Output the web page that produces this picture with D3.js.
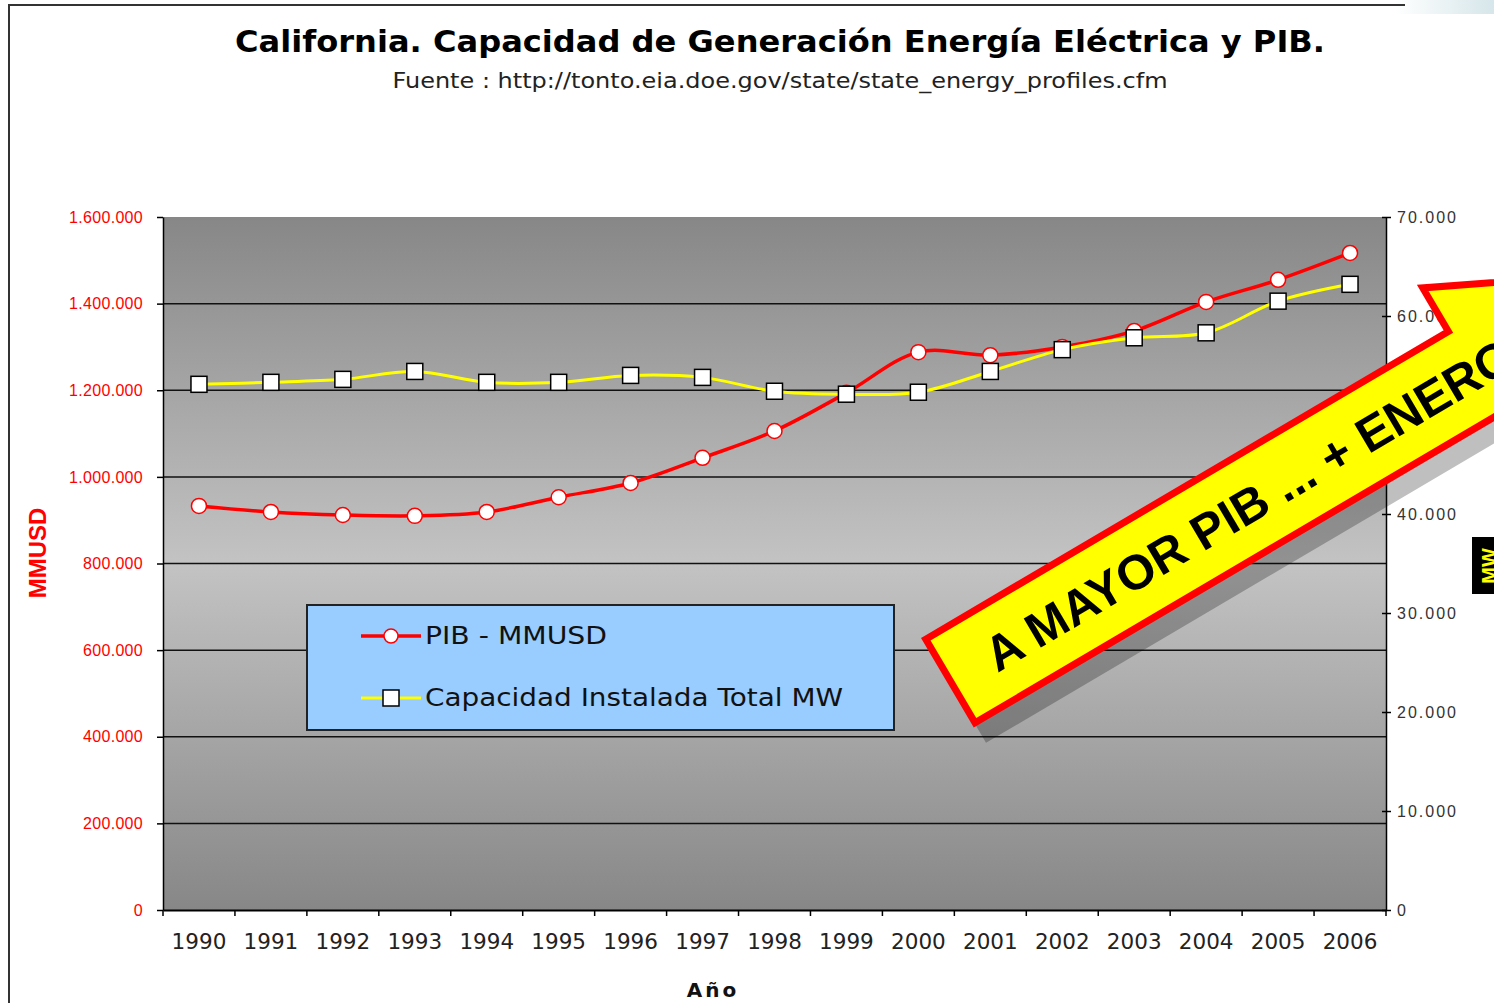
<!DOCTYPE html>
<html>
<head>
<meta charset="utf-8">
<script src="https://cdn.jsdelivr.net/npm/d3@7"></script>
<style>
  body { margin: 0; background: #fff; }
  svg { display: block; }
</style>
</head>
<body>
<div class="chart"></div>
<script>
'use strict';

// data
var years = ["1990","1991","1992","1993","1994","1995","1996","1997","1998",
             "1999","2000","2001","2002","2003","2004","2005","2006"];
var pib = [933000, 919000, 912000, 910000, 919000, 953000, 986000, 1044000, 1106000,
           1194000, 1288000, 1281000, 1300000, 1337000, 1404000, 1455000, 1517000];
var capacidad = [53100, 53300, 53600, 54400, 53300, 53300, 54000, 53800, 52400,
                 52100, 52300, 54400, 56600, 57800, 58300, 61500, 63200];
var leftTicks = [0, 200000, 400000, 600000, 800000, 1000000, 1200000, 1400000, 1600000];
var rightTicks = [0, 10000, 20000, 30000, 40000, 50000, 60000, 70000];
var seriesNames = ["PIB - MMUSD", "Capacidad Instalada Total MW"];

var W = 1494, H = 1003;
var plot = {left: 163, right: 1386, top: 217, bottom: 910};

var svg = d3.select(".chart").append("svg")
            .attr("width", W).attr("height", H);

var defs = svg.append("defs");
var grad = defs.append("linearGradient").attr("id", "bg")
               .attr("x1", 0).attr("y1", 0).attr("x2", 0).attr("y2", 1);
grad.append("stop").attr("offset", "0%").attr("stop-color", "#878787");
grad.append("stop").attr("offset", "50%").attr("stop-color", "#c3c3c3");
grad.append("stop").attr("offset", "100%").attr("stop-color", "#878787");

var corner = defs.append("linearGradient").attr("id", "corner")
                 .attr("x1", 0).attr("y1", 0).attr("x2", 1).attr("y2", 0);
corner.append("stop").attr("offset", "0%").attr("stop-color", "#fff");
corner.append("stop").attr("offset", "100%").attr("stop-color", "#d6e6ea");

// frame of the slide
svg.append("rect").attr("x", 1395).attr("y", 0).attr("width", 99).attr("height", 14)
   .attr("fill", "url(#corner)");
svg.append("path").attr("d", "M9,1003 L9,5 L1405,5")
   .attr("fill", "none").attr("stroke", "#333").attr("stroke-width", 2);

// titles
svg.append("text").attr("x", 780).attr("y", 52).attr("text-anchor", "middle")
   .attr("font-family", "DejaVu Sans, Verdana, sans-serif").attr("font-weight", "bold")
   .attr("font-size", 31).attr("textLength", 1090).attr("lengthAdjust", "spacingAndGlyphs")
   .attr("fill", "#000")
   .text("California. Capacidad de Generación Energía Eléctrica y PIB.");
svg.append("text").attr("x", 780).attr("y", 88).attr("text-anchor", "middle")
   .attr("font-family", "DejaVu Sans, Verdana, sans-serif")
   .attr("font-size", 21).attr("textLength", 775).attr("lengthAdjust", "spacingAndGlyphs")
   .attr("fill", "#222")
   .text("Fuente : http://tonto.eia.doe.gov/state/state_energy_profiles.cfm");

// scales
var x = d3.scaleBand().domain(years).range([plot.left, plot.right]);
var yL = d3.scaleLinear().domain([0, 1600000]).range([plot.bottom, plot.top]);
var yR = d3.scaleLinear().domain([0, 70000]).range([plot.bottom, plot.top]);
var cx = function(d){ return x(d) + x.bandwidth() / 2; };

var es = d3.formatLocale({decimal: ",", thousands: ".", grouping: [3], currency: ["", ""]});
var fmt = es.format(",d");

// plot background and gridlines
svg.append("rect").attr("x", plot.left).attr("y", plot.top)
   .attr("width", plot.right - plot.left).attr("height", plot.bottom - plot.top)
   .attr("fill", "url(#bg)");

svg.append("g").selectAll("line")
   .data(leftTicks.filter(function(d){ return d > 0 && d < 1600000; }))
   .enter().append("line")
   .attr("x1", plot.left).attr("x2", plot.right)
   .attr("y1", function(d){ return yL(d); }).attr("y2", function(d){ return yL(d); })
   .attr("stroke", "#111").attr("stroke-width", 1.5);

// left axis
var gL = svg.append("g").attr("transform", "translate(" + plot.left + ",0)")
            .call(d3.axisLeft(yL).tickValues(leftTicks).tickFormat(fmt)
                    .tickSize(6).tickSizeOuter(0).tickPadding(14));
gL.select(".domain").attr("stroke", "#000").attr("stroke-width", 1.5);
gL.selectAll(".tick line").attr("stroke", "#000").attr("stroke-width", 1.5);
gL.selectAll(".tick text").attr("fill", "#ff0000")
  .attr("font-family", "Liberation Sans, Arial, sans-serif").attr("font-size", 16)
  .attr("letter-spacing", 0.3);

// right axis
var gR = svg.append("g").attr("transform", "translate(" + plot.right + ",0)")
            .call(d3.axisRight(yR).tickValues(rightTicks).tickFormat(fmt)
                    .tickSize(5).tickSizeOuter(0).tickPadding(6));
gR.select(".domain").attr("stroke", "#000").attr("stroke-width", 1.5);
gR.selectAll(".tick line").attr("stroke", "#000").attr("stroke-width", 1.5).attr("x1", -4);
gR.selectAll(".tick text").attr("fill", "#333")
  .attr("font-family", "Liberation Sans, Arial, sans-serif").attr("font-size", 16)
  .attr("letter-spacing", 2);

// bottom axis
var gX = svg.append("g").attr("transform", "translate(0," + plot.bottom + ")")
            .call(d3.axisBottom(x).tickSize(0).tickPadding(24));
gX.select(".domain").attr("stroke", "#000").attr("stroke-width", 2);
gX.selectAll(".tick text").attr("fill", "#222")
  .attr("font-family", "DejaVu Sans, Verdana, sans-serif").attr("font-size", 21.5);
gX.selectAll("line.sep").data(d3.range(years.length + 1)).enter()
  .append("line").attr("class", "sep")
  .attr("x1", function(i){ return plot.left + i * x.step(); })
  .attr("x2", function(i){ return plot.left + i * x.step(); })
  .attr("y1", 0).attr("y2", 6)
  .attr("stroke", "#000").attr("stroke-width", 1.5);

// axis titles
svg.append("text").attr("transform", "translate(46,553) rotate(-90)")
   .attr("text-anchor", "middle").attr("fill", "#ff0000")
   .attr("font-family", "Liberation Sans, Arial, sans-serif").attr("font-weight", "bold")
   .attr("font-size", 24).text("MMUSD");
svg.append("text").attr("x", 713).attr("y", 997).attr("text-anchor", "middle")
   .attr("font-family", "DejaVu Sans, Verdana, sans-serif").attr("font-weight", "bold")
   .attr("font-size", 20).attr("letter-spacing", 3).attr("fill", "#111").text("Año");

// series
var lineL = d3.line().x(function(d, i){ return cx(years[i]); })
              .y(function(d){ return yL(d); }).curve(d3.curveCatmullRom.alpha(0.5));
var lineR = d3.line().x(function(d, i){ return cx(years[i]); })
              .y(function(d){ return yR(d); }).curve(d3.curveCatmullRom.alpha(0.5));

svg.append("path").datum(pib).attr("d", lineL)
   .attr("fill", "none").attr("stroke", "#ff0000").attr("stroke-width", 3.5);
svg.append("g").selectAll("circle").data(pib).enter().append("circle")
   .attr("cx", function(d, i){ return cx(years[i]); })
   .attr("cy", function(d){ return yL(d); })
   .attr("r", 7.5).attr("fill", "#fff").attr("stroke", "#ff0000").attr("stroke-width", 1.5);

svg.append("path").datum(capacidad).attr("d", lineR)
   .attr("fill", "none").attr("stroke", "#ffff00").attr("stroke-width", 3);
svg.append("g").selectAll("rect").data(capacidad).enter().append("rect")
   .attr("x", function(d, i){ return cx(years[i]) - 8; })
   .attr("y", function(d){ return yR(d) - 8; })
   .attr("width", 16).attr("height", 16)
   .attr("fill", "#fff").attr("stroke", "#000").attr("stroke-width", 1.5);

// legend
var leg = svg.append("g").attr("transform", "translate(307,605)");
leg.append("rect").attr("width", 587).attr("height", 125)
   .attr("fill", "#99ccff").attr("stroke", "#222").attr("stroke-width", 2);
leg.append("line").attr("x1", 54).attr("x2", 114).attr("y1", 31).attr("y2", 31)
   .attr("stroke", "#ff0000").attr("stroke-width", 3.5);
leg.append("circle").attr("cx", 84).attr("cy", 31).attr("r", 7)
   .attr("fill", "#fff").attr("stroke", "#ff0000").attr("stroke-width", 1.5);
leg.append("line").attr("x1", 54).attr("x2", 114).attr("y1", 93).attr("y2", 93)
   .attr("stroke", "#ffff00").attr("stroke-width", 3);
leg.append("rect").attr("x", 76).attr("y", 85).attr("width", 16).attr("height", 16)
   .attr("fill", "#fff").attr("stroke", "#000").attr("stroke-width", 1.5);
leg.selectAll("text.name").data(seriesNames).enter().append("text")
   .attr("class", "name")
   .attr("x", 118).attr("y", function(d, i){ return 39 + i * 62; })
   .attr("font-family", "DejaVu Sans, Verdana, sans-serif").attr("font-size", 24)
   .attr("fill", "#111")
   .attr("textLength", function(d, i){ return i === 0 ? 182 : 418; })
   .attr("lengthAdjust", "spacingAndGlyphs")
   .text(function(d){ return d; });

// right axis title box (cut off by the slide edge)
svg.append("rect").attr("x", 1472).attr("y", 537).attr("width", 40).attr("height", 57)
   .attr("fill", "#000");
svg.append("text").attr("transform", "translate(1496,566) rotate(-90)")
   .attr("text-anchor", "middle").attr("fill", "#ffff00")
   .attr("font-family", "Liberation Sans, Arial, sans-serif").attr("font-weight", "bold")
   .attr("font-size", 20).text("MW");

// big arrow call-out
var arrowPath = "M3.5,3.5 L610,3.5 L610,-47 L812,52 L610,151 L610,100.5 L3.5,100.5 Z";
svg.append("path").attr("d", arrowPath)
   .attr("transform", "translate(932,658) rotate(-30.5)")
   .attr("fill", "#000").attr("fill-opacity", 0.25);
var arrow = svg.append("g").attr("transform", "translate(921,638) rotate(-30.5)");
arrow.append("path").attr("d", arrowPath)
   .attr("fill", "#ffff00").attr("stroke", "#ff0000").attr("stroke-width", 7)
   .attr("stroke-linejoin", "miter").attr("stroke-miterlimit", 10);
arrow.append("text").attr("x", 48).attr("y", 69)
   .attr("font-family", "Liberation Sans, Arial, sans-serif").attr("font-weight", "bold")
   .attr("font-size", 49).attr("fill", "#000")
   .text("A MAYOR PIB ... + ENERGÍA");
</script>
</body>
</html>
